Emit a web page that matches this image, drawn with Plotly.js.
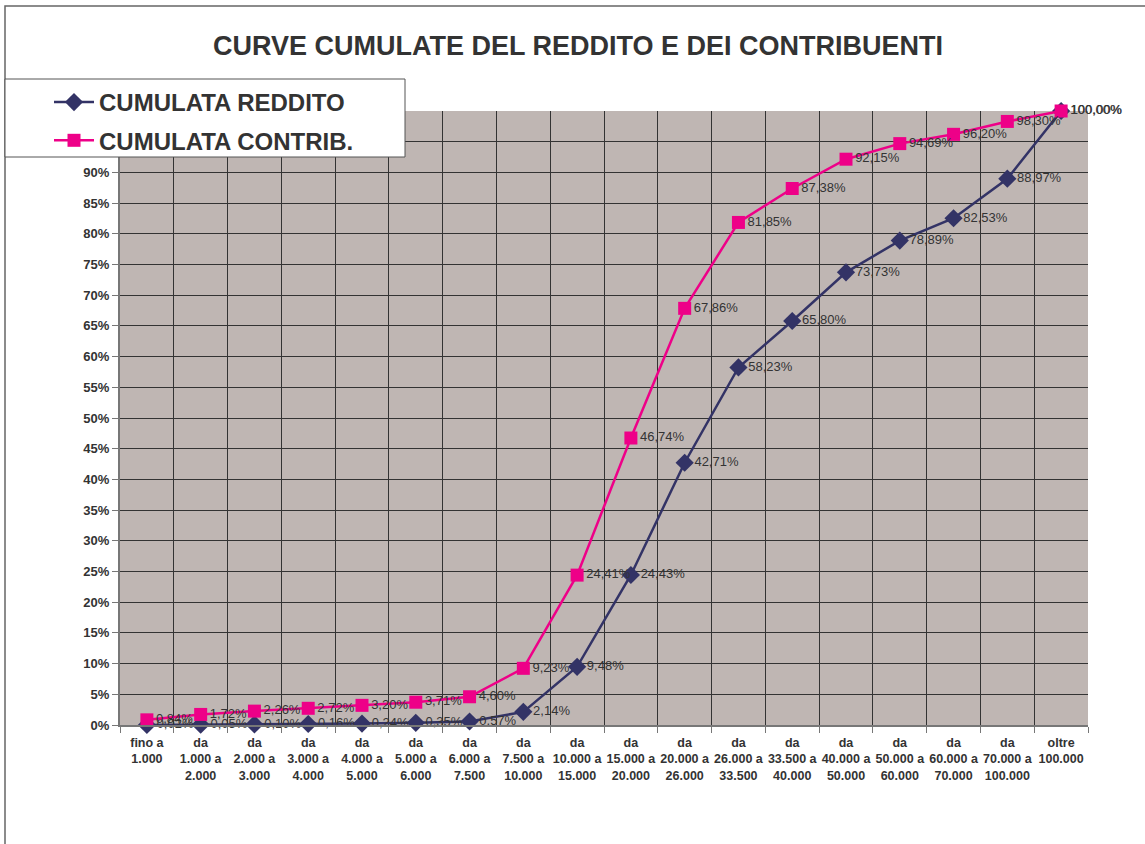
<!DOCTYPE html>
<html><head><meta charset="utf-8">
<script src="https://cdn.plot.ly/plotly-3.0.1.min.js"></script>
<style>html,body{margin:0;padding:0;background:#fff}#chart{width:1145px;height:844px}</style>
</head><body><div id="chart"></div>
<script>
const categories = ["fino a<br>1.000","da<br>1.000 a<br>2.000","da<br>2.000 a<br>3.000","da<br>3.000 a<br>4.000","da<br>4.000 a<br>5.000","da<br>5.000 a<br>6.000","da<br>6.000 a<br>7.500","da<br>7.500 a<br>10.000","da<br>10.000 a<br>15.000","da<br>15.000 a<br>20.000","da<br>20.000 a<br>26.000","da<br>26.000 a<br>33.500","da<br>33.500 a<br>40.000","da<br>40.000 a<br>50.000","da<br>50.000 a<br>60.000","da<br>60.000 a<br>70.000","da<br>70.000 a<br>100.000","oltre<br>100.000"];
const cumulataReddito = [0.02,0.05,0.10,0.16,0.24,0.35,0.57,2.14,9.48,24.43,42.71,58.23,65.80,73.73,78.89,82.53,88.97,100.00];
const cumulataContrib = [0.84,1.72,2.26,2.72,3.20,3.71,4.60,9.23,24.41,46.74,67.86,81.85,87.38,92.15,94.69,96.20,98.30,100.00];
const yTicks = [0,5,10,15,20,25,30,35,40,45,50,55,60,65,70,75,80,85,90,95,100];

const fmt = v => v.toFixed(2).replace('.', ',') + '%';
const FONT = 'Liberation Sans, Arial, Helvetica, sans-serif';

const traces = [
  {x: categories, y: cumulataReddito, name: 'CUMULATA REDDITO', type: 'scatter', mode: 'lines+markers+text',
   line: {color: '#333366', width: 2.5}, marker: {symbol: 'diamond', size: 14, color: '#333366'},
   text: cumulataReddito.map(fmt), textposition: 'middle right', textfont: {family: FONT, size: 13, color: '#333333'},
   legendgroup: 'a', cliponaxis: false, hoverinfo: 'skip'},
  {x: categories, y: cumulataContrib, name: 'CUMULATA CONTRIB.', type: 'scatter', mode: 'lines+markers+text',
   line: {color: '#EE0088', width: 2.5}, marker: {symbol: 'square', size: 13, color: '#EE0088'},
   text: cumulataContrib.map(fmt), textposition: 'middle right', textfont: {family: FONT, size: 13, color: '#333333'},
   legendgroup: 'b', cliponaxis: false, hoverinfo: 'skip'}
];

const L = 120, R = 1088, T = 111, B = 725;
const px = x => (x - L) / (R - L);
const py = y => (B - y) / (B - T);

const layout = {
  width: 1145, height: 844,
  margin: {l: L, r: 1145 - R, t: T, b: 844 - B},
  paper_bgcolor: '#ffffff', plot_bgcolor: '#BFB6B3',
  font: {family: FONT, color: '#333333'},
  title: {text: '<b>CURVE CUMULATE DEL REDDITO E DEI CONTRIBUENTI</b>', font: {family: FONT, size: 27, color: '#333333'},
          x: px(578), xref: 'paper', xanchor: 'center', y: 1 - 46/844, yanchor: 'middle'},
  showlegend: true,
  legend: {x: px(49), y: py(80), xanchor: 'left', yanchor: 'top', bgcolor: 'rgba(0,0,0,0)', borderwidth: 0,
           font: {family: FONT, size: 24, color: '#333333'}, traceorder: 'grouped', tracegroupgap: 4,
           itemwidth: 40},
  xaxis: {type: 'category', tickson: 'boundaries', showgrid: true, gridcolor: '#333333', gridwidth: 1,
          showline: true, linecolor: '#777777', linewidth: 2, ticks: 'outside', ticklen: 6, tickcolor: '#777777',
          tickfont: {family: FONT, size: 12.5, color: '#333333'}, tickangle: 0, range: [-0.5, 17.5],
          ticklabelstandoff: 5, fixedrange: true},
  yaxis: {range: [0, 100], tickvals: yTicks, ticktext: yTicks.map(v => '<b>' + v + '%</b>'), showgrid: true,
          gridcolor: '#333333', gridwidth: 1, showline: true, linecolor: '#777777', linewidth: 2,
          ticks: 'outside', ticklen: 6, tickcolor: '#777777', tickfont: {family: FONT, size: 13, color: '#333333'},
          zeroline: false, fixedrange: true},
  shapes: [
    {type: 'rect', xref: 'paper', yref: 'paper', x0: px(5), x1: px(1160), y0: py(860), y1: py(6),
     line: {color: '#666666', width: 1.5}, fillcolor: 'rgba(0,0,0,0)', layer: 'below'},
    {type: 'rect', xref: 'paper', yref: 'paper', x0: px(5), x1: px(405), y0: py(157), y1: py(79),
     line: {color: '#555555', width: 1}, fillcolor: '#ffffff', layer: 'above'}
  ]
};

layout.xaxis.tickvals = categories;
layout.xaxis.ticktext = categories.map(c => '<b>' + c + '</b>');
traces.forEach(t => t.name = '<b>' + t.name + '</b>');

Plotly.newPlot('chart', traces, layout, {displayModeBar: false, staticPlot: true});
</script></body></html>
